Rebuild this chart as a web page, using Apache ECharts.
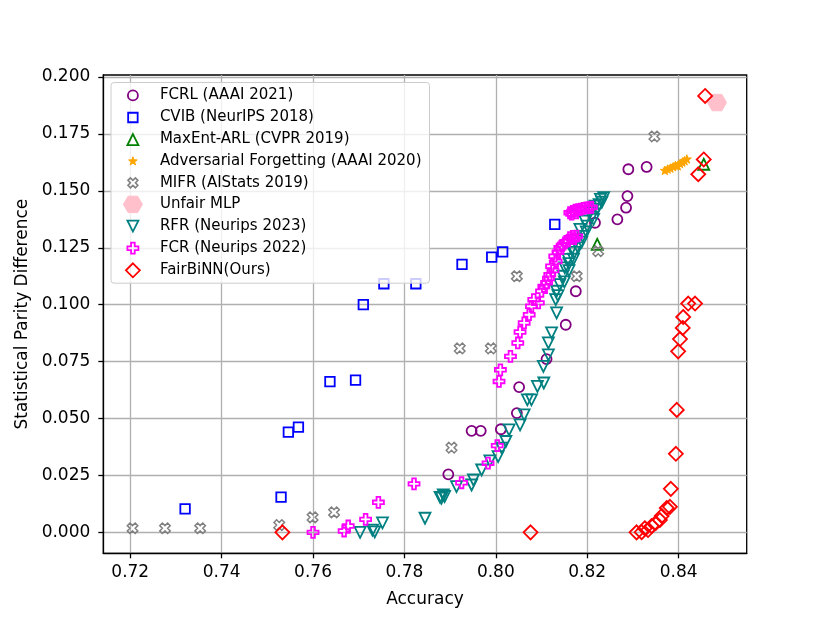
<!DOCTYPE html>
<html>
<head>
<meta charset="utf-8">
<script src="https://cdn.jsdelivr.net/npm/echarts@6.0.0/dist/echarts.min.js"></script>
<style>
  html, body { margin: 0; padding: 0; background: #fff; }
  #chart { width: 830px; height: 623px; }
</style>
</head>
<body>
<div id="chart"></div>
<script>
// tick labels
const xTicks = [0.72, 0.74, 0.76, 0.78, 0.80, 0.82, 0.84];
const yTicks = [0, 0.025, 0.05, 0.075, 0.1, 0.125, 0.15, 0.175, 0.2];

const methodNames = [
  'FCRL (AAAI 2021)',
  'CVIB (NeurIPS 2018)',
  'MaxEnt-ARL (CVPR 2019)',
  'Adversarial Forgetting (AAAI 2020)',
  'MIFR (AIStats 2019)',
  'Unfair MLP',
  'RFR (Neurips 2023)',
  'FCR (Neurips 2022)',
  'FairBiNN(Ours)'
];

// [accuracy, statistical parity difference]
const fcrl = [
  [0.7896, 0.0255], [0.7947, 0.0446], [0.7967, 0.0446], [0.8011, 0.0453], [0.8046, 0.0524],
  [0.8051, 0.0638], [0.8111, 0.0761], [0.8153, 0.0912], [0.8175, 0.1059], [0.8217, 0.1360],
  [0.8266, 0.1375], [0.8285, 0.1426], [0.8288, 0.1477], [0.8290, 0.1595], [0.8330, 0.1605]
];
const cvib = [
  [0.7320, 0.0103], [0.7530, 0.0155], [0.7546, 0.0440], [0.7568, 0.0462], [0.7637, 0.0662],
  [0.7693, 0.0669], [0.7710, 0.1000], [0.7755, 0.1092], [0.7825, 0.1092], [0.7926, 0.1177],
  [0.7991, 0.1209], [0.8015, 0.1232], [0.8129, 0.1353]
];
const maxEnt = [[0.8222, 0.1265], [0.8455, 0.1617]];
const advForgetting = [
  [0.8370, 0.1590], [0.8376, 0.1596], [0.8382, 0.1600], [0.8388, 0.1606], [0.8393, 0.1612],
  [0.8398, 0.1610], [0.8403, 0.1620], [0.8408, 0.1626], [0.8413, 0.1632], [0.8418, 0.1640]
];
const mifr = [
  [0.7205, 0.0018], [0.7276, 0.0018], [0.7353, 0.0018], [0.7526, 0.0032], [0.7599, 0.0066],
  [0.7646, 0.0088], [0.7903, 0.0372], [0.7921, 0.0808], [0.7989, 0.0808], [0.8046, 0.1125],
  [0.8177, 0.1125], [0.8224, 0.1235], [0.8347, 0.1739]
];
const unfairMlp = [[0.8484, 0.1888]];
const rfr = [
  [0.7703, 0.0000], [0.7730, 0.0010], [0.7735, 0.0002], [0.7752, 0.0042], [0.7845, 0.0062],
  [0.7878, 0.0154], [0.7881, 0.0150], [0.7885, 0.0164], [0.7888, 0.0158], [0.7914, 0.0201],
  [0.7947, 0.0208], [0.7951, 0.0230], [0.7969, 0.0274], [0.7987, 0.0314], [0.8005, 0.0333],
  [0.8013, 0.0370], [0.8022, 0.0399], [0.8029, 0.0450], [0.8053, 0.0472], [0.8062, 0.0516],
  [0.8069, 0.0582], [0.8078, 0.0582], [0.8091, 0.0641], [0.8105, 0.0656], [0.8104, 0.0729],
  [0.8115, 0.0780], [0.8115, 0.0832], [0.8122, 0.0876], [0.8133, 0.0964], [0.8131, 0.1022],
  [0.8136, 0.1040], [0.8133, 0.1059], [0.8140, 0.1088], [0.8147, 0.1125], [0.8151, 0.1162],
  [0.8158, 0.1199], [0.8166, 0.1243], [0.8177, 0.1287], [0.8184, 0.1331], [0.8195, 0.1367],
  [0.8206, 0.1404], [0.8217, 0.1433], [0.8229, 0.1463], [0.8236, 0.1470], [0.8150, 0.1100],
  [0.8160, 0.1150], [0.8170, 0.1200], [0.8180, 0.1250], [0.8190, 0.1300], [0.8200, 0.1345],
  [0.8210, 0.1385], [0.8222, 0.1420], [0.8232, 0.1450], [0.8160, 0.1180], [0.8172, 0.1230],
  [0.8188, 0.1275], [0.8198, 0.1320], [0.8214, 0.1375], [0.8226, 0.1440]
];
const fcr = [
  [0.7600, 0.0000], [0.7668, 0.0006], [0.7677, 0.0028], [0.7715, 0.0057], [0.7743, 0.0132],
  [0.7821, 0.0213], [0.7925, 0.0218], [0.7983, 0.0304], [0.8003, 0.0381], [0.8007, 0.0663],
  [0.8010, 0.0714], [0.8032, 0.0773], [0.8048, 0.0832], [0.8053, 0.0880], [0.8062, 0.0920],
  [0.8073, 0.0956], [0.8078, 0.0993], [0.8093, 0.1008], [0.8083, 0.1022], [0.8100, 0.1059],
  [0.8111, 0.1096], [0.8118, 0.1132], [0.8122, 0.1169], [0.8129, 0.1213], [0.8140, 0.1250],
  [0.8151, 0.1272], [0.8162, 0.1294], [0.8177, 0.1301], [0.8105, 0.1080], [0.8115, 0.1115],
  [0.8125, 0.1150], [0.8132, 0.1190], [0.8136, 0.1230], [0.8145, 0.1260], [0.8158, 0.1280],
  [0.8168, 0.1300], [0.8172, 0.1290], [0.8162, 0.1404], [0.8168, 0.1410], [0.8174, 0.1415],
  [0.8180, 0.1418], [0.8186, 0.1420], [0.8192, 0.1423], [0.8198, 0.1425], [0.8204, 0.1426],
  [0.8209, 0.1428], [0.8166, 0.1398], [0.8176, 0.1404]
];
const fairBiNN = [
  [0.7533, 0.0000], [0.8076, 0.0000], [0.8308, 0.0000], [0.8319, 0.0001], [0.8326, 0.0018],
  [0.8333, 0.0010], [0.8341, 0.0028], [0.8350, 0.0041], [0.8359, 0.0054], [0.8363, 0.0072],
  [0.8374, 0.0107], [0.8381, 0.0112], [0.8383, 0.0191], [0.8394, 0.0345], [0.8396, 0.0538],
  [0.8399, 0.0795], [0.8403, 0.0849], [0.8409, 0.0898], [0.8410, 0.0946], [0.8421, 0.1005],
  [0.8436, 0.1005], [0.8443, 0.1573], [0.8455, 0.1638], [0.8458, 0.1917]
];

// marker shapes (matplotlib-like)
const starPath = 'path://M0 -5L1.18 -1.62L4.76 -1.55L1.9 0.62L2.94 4.05L0 2L-2.94 4.05L-1.9 0.62L-4.76 -1.55L-1.18 -1.62Z';
const xPath = 'path://M-2.75 -5.5L0 -2.75L2.75 -5.5L5.5 -2.75L2.75 0L5.5 2.75L2.75 5.5L0 2.75L-2.75 5.5L-5.5 2.75L-2.75 0L-5.5 -2.75Z';
const hexPath = 'path://M-10 0L-5 -8.66L5 -8.66L10 0L5 8.66L-5 8.66Z';
const plusPath = 'path://M-1.83 -5.5L1.83 -5.5L1.83 -1.83L5.5 -1.83L5.5 1.83L1.83 1.83L1.83 5.5L-1.83 5.5L-1.83 1.83L-5.5 1.83L-5.5 -1.83L-1.83 -1.83Z';

// legend icons drawn in a 20x20 box so they keep their own size
const pad = 'M-10 -10M10 10';
const legendIcons = [
  'path://' + pad + 'M5 0A5 5 0 1 1 -5 0A5 5 0 1 1 5 0Z',
  'path://' + pad + 'M-4.75 -4.75L4.75 -4.75L4.75 4.75L-4.75 4.75Z',
  'path://' + pad + 'M0 -5.5L5.5 5.5L-5.5 5.5Z',
  'path://' + pad + 'M0 -4.5L1.06 -1.46L4.28 -1.39L1.71 0.56L2.65 3.64L0 1.8L-2.65 3.64L-1.71 0.56L-4.28 -1.39L-1.06 -1.46Z',
  'path://' + pad + 'M-2.5 -5L0 -2.5L2.5 -5L5 -2.5L2.5 0L5 2.5L2.5 5L0 2.5L-2.5 5L-5 2.5L-2.5 0L-5 -2.5Z',
  'path://' + pad + 'M-9.5 0L-4.75 -8.2L4.75 -8.2L9.5 0L4.75 8.2L-4.75 8.2Z',
  'path://' + pad + 'M-5.5 -5.5L5.5 -5.5L0 5.5Z',
  'path://' + pad + 'M-1.83 -5.5L1.83 -5.5L1.83 -1.83L5.5 -1.83L5.5 1.83L1.83 1.83L1.83 5.5L-1.83 5.5L-1.83 1.83L-5.5 1.83L-5.5 -1.83L-1.83 -1.83Z',
  'path://' + pad + 'M0 -7L7 0L0 7L-7 0Z'
];

const clear = 'rgba(0,0,0,0)';
const styles = [
  { data: fcrl, symbol: 'circle', size: 10, fill: clear, stroke: '#800080', lw: 1.8 },
  { data: cvib, symbol: 'rect', size: 9.5, fill: clear, stroke: '#0000ff', lw: 1.8 },
  { data: maxEnt, symbol: 'triangle', size: 11, fill: clear, stroke: '#008000', lw: 1.8 },
  { data: advForgetting, symbol: starPath, size: 9, fill: '#ffa500', stroke: '#ffa500', lw: 1 },
  { data: mifr, symbol: xPath, size: 10.5, fill: clear, stroke: '#808080', lw: 1.5 },
  { data: unfairMlp, symbol: hexPath, size: 19, fill: '#ffc0cb', stroke: '#ffc0cb', lw: 1 },
  { data: rfr, symbol: 'triangle', size: 11, fill: clear, stroke: '#008080', lw: 1.8, rotate: 180 },
  { data: fcr, symbol: plusPath, size: 11, fill: clear, stroke: '#ff00ff', lw: 1.8 },
  { data: fairBiNN, symbol: 'diamond', size: 14, fill: clear, stroke: '#ff0000', lw: 1.8 }
];

const font = 'DejaVu Sans';
const chart = echarts.init(document.getElementById('chart'), null, { renderer: 'canvas' });

const option = {
  animation: false,
  backgroundColor: '#fff',
  grid: {
    left: 103.3, right: 83.3, top: 75, bottom: 69.7,
    show: true, borderColor: '#000', borderWidth: 1.3, backgroundColor: 'transparent'
  },
  legend: {
    orient: 'vertical',
    left: 111, top: 82.5,
    itemWidth: 20, itemHeight: 20, itemGap: 0.3,
    padding: [2, 8, 2, 11],
    backgroundColor: 'rgba(255,255,255,0.8)',
    borderColor: '#cccccc', borderWidth: 1, borderRadius: 3,
    selectedMode: false,
    textStyle: { fontFamily: font, fontSize: 15, color: '#000', padding: [0, 0, 0, 12] },
    data: methodNames.map((name, i) => ({
      name: name,
      icon: legendIcons[i],
      itemStyle: { color: styles[i].fill, borderColor: styles[i].stroke, borderWidth: styles[i].lw }
    }))
  },
  xAxis: {
    type: 'value',
    min: 0.7141, max: 0.8549,
    name: 'Accuracy',
    nameLocation: 'middle', nameGap: 38,
    nameTextStyle: { fontFamily: font, fontSize: 17, color: '#000' },
    axisLine: { show: true, onZero: false, lineStyle: { color: '#000', width: 1.3 } },
    axisTick: { show: true, length: 5, customValues: xTicks, lineStyle: { color: '#000', width: 1.3 } },
    axisLabel: {
      customValues: xTicks, margin: 11,
      fontFamily: font, fontSize: 17, color: '#000',
      formatter: v => v.toFixed(2)
    },
    splitLine: { show: true, lineStyle: { color: '#b0b0b0', width: 1.3 } }
  },
  yAxis: {
    type: 'value',
    min: -0.0092, max: 0.2009,
    name: 'Statistical Parity Difference',
    nameLocation: 'middle', nameGap: 70,
    nameTextStyle: { fontFamily: font, fontSize: 17, color: '#000' },
    axisLine: { show: true, onZero: false, lineStyle: { color: '#000', width: 1.3 } },
    axisTick: { show: true, length: 5, customValues: yTicks, lineStyle: { color: '#000', width: 1.3 } },
    axisLabel: {
      customValues: yTicks, margin: 13,
      fontFamily: font, fontSize: 17, color: '#000',
      formatter: v => v.toFixed(3)
    },
    splitLine: { show: true, lineStyle: { color: '#b0b0b0', width: 1.3 } }
  },
  series: styles.map((s, i) => ({
    name: methodNames[i],
    type: 'scatter',
    data: s.data,
    symbol: s.symbol,
    symbolSize: s.size,
    symbolRotate: s.rotate || 0,
    symbolKeepAspect: true,
    itemStyle: { color: s.fill, borderColor: s.stroke, borderWidth: s.lw, opacity: 1 },
    emphasis: { disabled: true }
  }))
};

chart.setOption(option);
</script>
</body>
</html>
